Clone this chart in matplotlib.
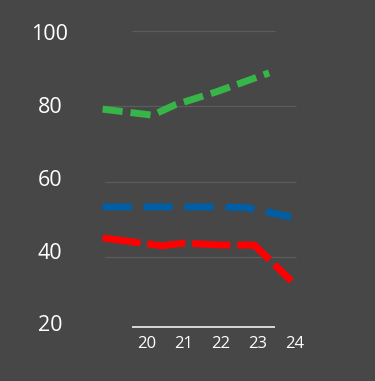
import matplotlib
matplotlib.use("Agg")
import matplotlib.pyplot as plt

# datos
green_x = [18.8, 20.15, 20.75, 21.85, 23.3]
green_y = [79.3, 77.7, 80.4, 83.8, 88.9]

blue_x = [18.8, 20.0, 21.0, 22.0, 22.7, 23.9]
blue_y = [53.4, 53.4, 53.4, 53.4, 53.2, 50.7]

red_x = [18.8, 20.4, 21.0, 22.0, 22.9, 23.9]
red_y = [45.2, 43.1, 43.8, 43.3, 43.3, 33.8]

x_ticks = [20, 21, 22, 23, 24]
y_ticks = [20, 40, 60, 80, 100]

BG = "#474747"
plt.rcParams["font.family"] = ["Open Sans", "DejaVu Sans"]

fig = plt.figure(figsize=(3.75, 3.81), dpi=100, facecolor=BG)
ax = fig.add_axes([95 / 375, 41 / 381, 215 / 375, 320 / 381])
ax.set_facecolor(BG)
ax.set_xlim(18.595, 24.405)
ax.set_ylim(18.146, 102.91)
ax.set_xticks([])
ax.set_yticks([])
for s in ax.spines.values():
    s.set_visible(False)

# lineas de cuadricula (no todas del mismo largo)
ax.hlines(100, 19.595, 23.46, color="#5c5c5c", lw=0.9)
ax.hlines([80, 60, 40], 18.865, 24.03, color="#5c5c5c", lw=0.9)
# linea base
ax.hlines(21.6, 19.595, 23.46, color="#f0f0f0", lw=1.2)

ax.plot(green_x, green_y, color="#38b549", lw=5, dashes=(2.9, 1.15),
        solid_capstyle="butt", dash_capstyle="butt")
ax.plot(blue_x, blue_y, color="#005ea6", lw=5, dashes=(4.2, 1.7),
        solid_capstyle="butt", dash_capstyle="butt")
ax.plot(red_x, red_y, color="#ff0000", lw=5, dashes=(5.5, 1.0),
        solid_capstyle="butt", dash_capstyle="butt")

# etiquetas del eje y: en el original quedan algo mas juntas que la cuadricula
for v in y_ticks:
    ypos = 100 - (100 - v) * 0.9636 - 1.0
    ax.text(18.595 - 1.215, ypos, str(v), ha="center", va="center",
            color="white", fontsize=15.5)

for v in x_ticks:
    ax.text(v, 21.6 - 2.3, str(v), ha="center", va="top", color="white", fontsize=12)

fig.savefig("out.png", dpi=100, facecolor=BG)
